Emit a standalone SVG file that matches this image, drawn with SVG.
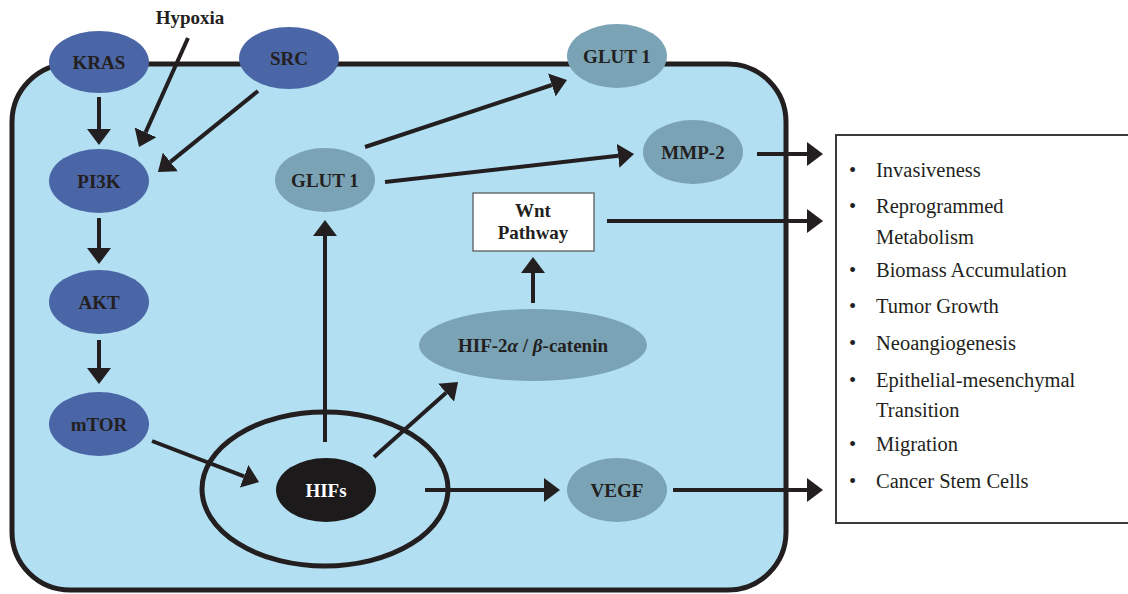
<svg xmlns="http://www.w3.org/2000/svg" width="1128" height="594" viewBox="0 0 1128 594">
  <defs>
    <marker id="head" viewBox="0 -12 16 24" refX="0" refY="0" markerWidth="16" markerHeight="24" markerUnits="userSpaceOnUse" orient="auto">
      <path d="M0,-12 L16,0 L0,12 z" fill="#231f20"/>
    </marker>
    <style>
      .cell { fill: #b2e0f2; stroke: #231f20; stroke-width: 5; }
      .nucleus { fill: none; stroke: #231f20; stroke-width: 5; }
      .blue { fill: #4a66a6; }
      .teal { fill: #7aa3b5; }
      .dark { fill: #1c1a1b; }
      .lbl { font-family: "Liberation Serif", "Times New Roman", serif; font-weight: bold; font-size: 19px; fill: #231f20; text-anchor: middle; }
      .lbl-w { fill: #ffffff; }
      .conn line { stroke: #231f20; stroke-width: 4; marker-end: url(#head); }
      .item { font-family: "Liberation Serif", "Times New Roman", serif; font-size: 20.5px; fill: #231f20; }
    </style>
  </defs>

  <rect width="1128" height="594" fill="#ffffff"/>

  <!-- cell body -->
  <rect id="cell" class="cell" x="12" y="64" width="774" height="526" rx="58" ry="58"/>

  <!-- nucleus -->
  <g id="nucleus">
    <ellipse class="nucleus" cx="325" cy="489" rx="123" ry="77"/>
  </g>

  <!-- connectors -->
  <g id="connectors" class="conn">
    <line x1="99" y1="97" x2="99" y2="129"/>
    <line x1="188" y1="38" x2="145.6" y2="132.4"/>
    <line x1="258" y1="91" x2="170.4" y2="161.9"/>
    <line x1="99" y1="218" x2="99" y2="248"/>
    <line x1="99" y1="340" x2="99" y2="368"/>
    <line x1="152" y1="441" x2="244.1" y2="476.3"/>
    <line x1="325" y1="442" x2="325" y2="236"/>
    <line x1="365" y1="147" x2="551.8" y2="85"/>
    <line x1="385" y1="182" x2="618.1" y2="155.8"/>
    <line x1="374" y1="457" x2="446.1" y2="392.7"/>
    <line x1="533" y1="303" x2="533" y2="273"/>
    <line x1="425" y1="490" x2="544" y2="490"/>
    <line x1="757" y1="154" x2="807" y2="154"/>
    <line x1="607" y1="221" x2="807" y2="221"/>
    <line x1="673" y1="490" x2="807" y2="490"/>
  </g>

  <!-- signalling nodes -->
  <g id="hypoxia">
    <text class="lbl" x="190" y="24" font-size="20.5">Hypoxia</text>
  </g>
  <g id="kras">
    <ellipse class="blue" cx="99" cy="62" rx="50" ry="31"/>
    <text class="lbl" x="99" y="69">KRAS</text>
  </g>
  <g id="src">
    <ellipse class="blue" cx="289" cy="58" rx="50" ry="31"/>
    <text class="lbl" x="289" y="65">SRC</text>
  </g>
  <g id="pi3k">
    <ellipse class="blue" cx="99" cy="181" rx="50" ry="32"/>
    <text class="lbl" x="99" y="188">PI3K</text>
  </g>
  <g id="akt">
    <ellipse class="blue" cx="99" cy="302" rx="50" ry="32"/>
    <text class="lbl" x="99" y="309">AKT</text>
  </g>
  <g id="mtor">
    <ellipse class="blue" cx="99" cy="424" rx="50" ry="32"/>
    <text class="lbl" x="99" y="431">mTOR</text>
  </g>
  <g id="glut1-inner">
    <ellipse class="teal" cx="325" cy="180" rx="50" ry="32"/>
    <text class="lbl" x="325" y="187">GLUT 1</text>
  </g>
  <g id="glut1-membrane">
    <ellipse class="teal" cx="617" cy="56" rx="50" ry="32"/>
    <text class="lbl" x="617" y="63">GLUT 1</text>
  </g>
  <g id="mmp2">
    <ellipse class="teal" cx="693" cy="152" rx="50" ry="32"/>
    <text class="lbl" x="693" y="159">MMP-2</text>
  </g>
  <g id="wnt">
    <rect x="473" y="193" width="121" height="58" fill="#ffffff" stroke="#6d6e71" stroke-width="1.5"/>
    <text class="lbl" x="533" y="217">Wnt</text>
    <text class="lbl" x="533" y="239">Pathway</text>
  </g>
  <g id="hif2a-bcatenin">
    <ellipse class="teal" cx="533" cy="345" rx="114" ry="36"/>
    <text class="lbl" x="533" y="352" font-size="20.5">HIF-2<tspan font-style="italic">α</tspan> / <tspan font-style="italic">β</tspan>-catenin</text>
  </g>
  <g id="hifs">
    <ellipse class="dark" cx="326" cy="490" rx="50" ry="32"/>
    <text class="lbl lbl-w" x="326" y="497">HIFs</text>
  </g>
  <g id="vegf">
    <ellipse class="teal" cx="617" cy="490" rx="50" ry="32"/>
    <text class="lbl" x="617" y="497">VEGF</text>
  </g>

  <!-- outcomes list -->
  <g id="outcomes">
    <rect x="836" y="135" width="300" height="388" fill="#ffffff" stroke="#3a3a3a" stroke-width="2"/>
    <g class="item">
      <text x="849" y="177">•</text><text x="876" y="177">Invasiveness</text>
      <text x="849" y="213">•</text><text x="876" y="213">Reprogrammed</text>
      <text x="876" y="244">Metabolism</text>
      <text x="849" y="277">•</text><text x="876" y="277">Biomass Accumulation</text>
      <text x="849" y="313">•</text><text x="876" y="313">Tumor Growth</text>
      <text x="849" y="350">•</text><text x="876" y="350">Neoangiogenesis</text>
      <text x="849" y="387">•</text><text x="876" y="387">Epithelial-mesenchymal</text>
      <text x="876" y="417">Transition</text>
      <text x="849" y="451">•</text><text x="876" y="451">Migration</text>
      <text x="849" y="488">•</text><text x="876" y="488">Cancer Stem Cells</text>
    </g>
  </g>
</svg>
